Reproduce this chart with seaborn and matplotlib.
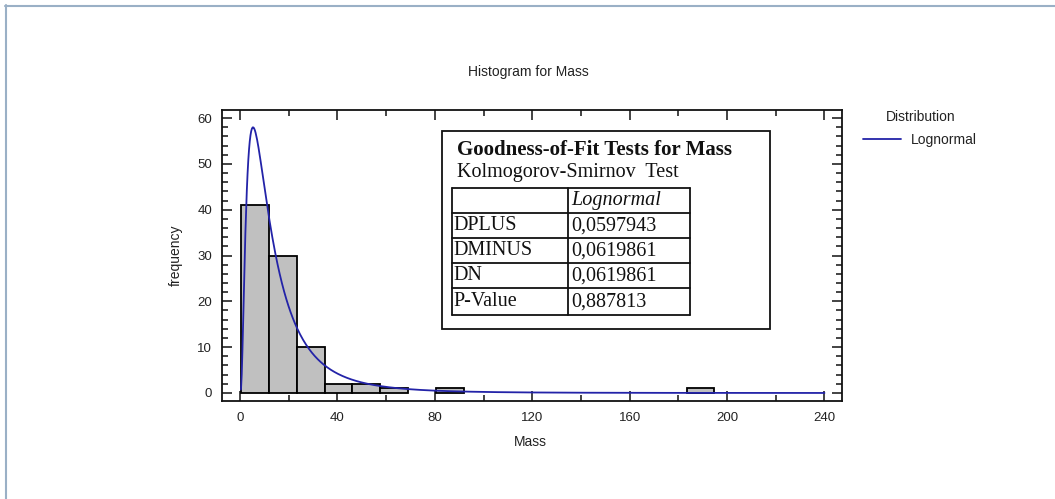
import numpy as np
import pandas as pd
import matplotlib
matplotlib.use("Agg")
import matplotlib.pyplot as plt
from matplotlib.patches import Rectangle
from matplotlib.lines import Line2D
from matplotlib.ticker import MultipleLocator
import seaborn as sns

# ---- histogram of Mass (17 equal bins between the sample min and max) ----
bin_low, bin_high = 0.4, 194.8
bin_counts = [41, 30, 10, 2, 2, 1, 0, 1, 0, 0, 0, 0, 0, 0, 0, 0, 1]

# ---- fitted lognormal distribution ----
fit_mu, fit_sigma = 2.45, 0.88
curve_end = 240.0

# ---- goodness-of-fit table ----
gof_title = "Goodness-of-Fit Tests for Mass"
gof_subtitle = "Kolmogorov-Smirnov  Test"
gof_column = "Lognormal"
gof_stats = ["DPLUS", "DMINUS", "DN", "P-Value"]
gof_values = ["0,0597943", "0,0619861", "0,0619861", "0,887813"]

x_ticks = [0, 40, 80, 120, 160, 200, 240]
y_ticks = [0, 10, 20, 30, 40, 50, 60]

W, H = 1055, 499


def fx(px):
    return px / W


def fy(py):
    return 1 - py / H


sns.set_theme(style="white")
plt.rcParams["font.family"] = ["Liberation Sans", "DejaVu Sans"]

fig = plt.figure(figsize=(W / 100, H / 100), dpi=100)
fig.patch.set_facecolor("white")

ax = fig.add_axes([fx(222), fy(401), fx(842) - fx(222), fy(110) - fy(401)])

n_bins = len(bin_counts)
edges = np.linspace(bin_low, bin_high, n_bins + 1)
centers = (edges[:-1] + edges[1:]) / 2
hist_df = pd.DataFrame({"Mass": centers, "count": bin_counts})
sns.histplot(data=hist_df, x="Mass", weights="count", bins=n_bins,
             binrange=(bin_low, bin_high),
             color="#c0c0c0", edgecolor="black", linewidth=1.3, alpha=1.0,
             ax=ax)
for p in ax.patches:
    if p.get_height() == 0:
        p.set_edgecolor("none")

# lognormal density scaled to counts per bin
n_obs = sum(bin_counts)
width = edges[1] - edges[0]
xs = np.linspace(bin_low, curve_end, 800)
pdf = np.exp(-(np.log(xs) - fit_mu) ** 2 / (2 * fit_sigma ** 2)) / (xs * fit_sigma * np.sqrt(2 * np.pi))
curve_df = pd.DataFrame({"Mass": xs, "frequency": pdf * n_obs * width})
sns.lineplot(data=curve_df, x="Mass", y="frequency", color="#2323a8",
             linewidth=1.3, ax=ax, legend=False)

ax.set_xlim(-7.4, 247.2)
ax.set_ylim(-1.75, 61.75)
ax.set_xticks(x_ticks)
ax.set_yticks(y_ticks)
ax.xaxis.set_minor_locator(MultipleLocator(20))
ax.yaxis.set_minor_locator(MultipleLocator(2))
ax.tick_params(which="both", direction="in", top=True, right=True, bottom=True, left=True,
               color="#111111", width=1.1, labelsize=9.5, labelcolor="#222222")
ax.tick_params(which="major", length=7)
ax.tick_params(which="minor", length=4)
ax.tick_params(axis="x", which="major", pad=8)
ax.tick_params(axis="y", which="major", pad=7)
for s in ax.spines.values():
    s.set_color("#111111")
    s.set_linewidth(1.3)

ax.set_xlabel("")
ax.set_ylabel("")
fig.text(fx(530), fy(442), "Mass", ha="center", va="center", fontsize=10, color="#222222")
fig.text(fx(176), fy(255), "frequency", ha="center", va="center", rotation=90,
         fontsize=10, color="#222222")
fig.text(fx(528), fy(72), "Histogram for Mass", ha="center", va="center",
         fontsize=10, color="#222222")

# legend
fig.text(fx(921), fy(117), "Distribution", ha="center", va="center", fontsize=10,
         color="#222222")
leg_handle = Line2D([], [], color="#2323a8", linewidth=1.3)
leg = fig.legend([leg_handle], [gof_column], loc="center left",
                 bbox_to_anchor=(fx(863), fy(140)), frameon=False, fontsize=10,
                 handlelength=2.7, handletextpad=0.75,
                 borderaxespad=0, borderpad=0)
for t in leg.get_texts():
    t.set_color("#222222")

# goodness-of-fit box
serif = ["Liberation Serif", "DejaVu Serif"]
fig.patches.append(Rectangle((fx(442), fy(329)), fx(770) - fx(442), fy(131) - fy(329),
                             transform=fig.transFigure, facecolor="white",
                             edgecolor="#111111", linewidth=1.3))
fig.text(fx(457), fy(150), gof_title, ha="left", va="center", family=serif,
         fontweight="bold", fontsize=15, color="#111111")
fig.text(fx(457), fy(173), gof_subtitle, ha="left", va="center", family=serif,
         fontsize=14.5, color="#111111")

col_x = [452, 568, 690]
row_y = [188, 213.3, 238.3, 263.3, 288.3, 315]
for yv in row_y:
    fig.add_artist(Line2D([fx(col_x[0]), fx(col_x[-1])], [fy(yv), fy(yv)],
                          transform=fig.transFigure, color="#111111", linewidth=1.3))
for xv in col_x:
    fig.add_artist(Line2D([fx(xv), fx(xv)], [fy(row_y[0]), fy(row_y[-1])],
                          transform=fig.transFigure, color="#111111", linewidth=1.3))

fig.text(fx(col_x[1] + 3), fy((row_y[0] + row_y[1]) / 2), gof_column, ha="left", va="center",
         family=serif, style="italic", fontsize=14.5, color="#111111")
for i, (name, val) in enumerate(zip(gof_stats, gof_values)):
    yc = (row_y[i + 1] + row_y[i + 2]) / 2
    fig.text(fx(col_x[0] + 1), fy(yc), name, ha="left", va="center", family=serif,
             fontsize=14.5, color="#111111")
    fig.text(fx(col_x[1] + 3), fy(yc), val, ha="left", va="center", family=serif,
             fontsize=14.5, color="#111111")

# window frame: top and left edges only
frame_color = "#9ab0c6"
fig.add_artist(Line2D([fx(5), 1.0], [fy(5.5), fy(5.5)], transform=fig.transFigure,
                      color=frame_color, linewidth=1.5))
fig.add_artist(Line2D([fx(5.5), fx(5.5)], [fy(5), 0.0], transform=fig.transFigure,
                      color=frame_color, linewidth=1.5))

fig.savefig("out.png", dpi=100)
